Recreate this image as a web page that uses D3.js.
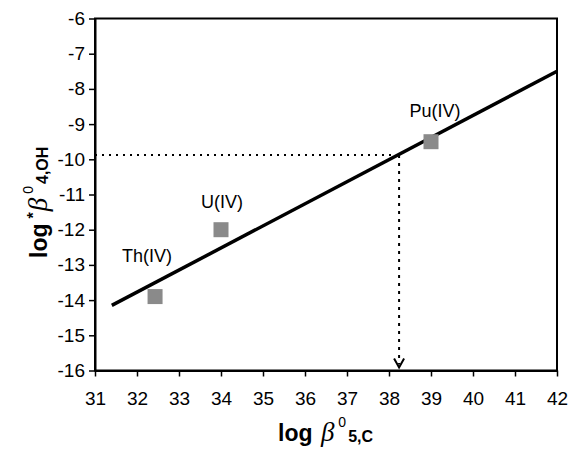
<!DOCTYPE html>
<html>
<head>
<meta charset="utf-8">
<script src="https://d3js.org/d3.v7.min.js"></script>
<style>
  body { margin: 0; background: #fff; }
  svg { display: block; font-family: "Liberation Sans", Arial, sans-serif; }
</style>
</head>
<body>
<svg id="chart" width="569" height="454"></svg>
<script>
// values
const species = ["Th(IV)", "U(IV)", "Pu(IV)"];
const logB5C = [32.43, 34.0, 39.0];      // x
const logB4OH = [-13.9, -12.0, -9.5];    // y
const labelDx = [-8, 1, 4];
const labelDy = [-35, -22, -25];

const fitX = [31.4, 42];
const fitY = [-14.15, -7.5];

const estX = 38.24;   // estimate read from the fit
const estY = -9.88;

const xTicks = d3.range(31, 43);
const yTicks = d3.range(-16, -5);

var svg = d3.select("#chart");

var mLeft = 95, mRight = 557, mTop = 18.5, mBottom = 370.5;

var x = d3.scaleLinear().domain([31, 42]).range([mLeft, mRight]);
var y = d3.scaleLinear().domain([-16, -6]).range([mBottom, mTop]);

// frame
svg.append("rect")
  .attr("x", mLeft).attr("y", mTop)
  .attr("width", mRight - mLeft).attr("height", mBottom - mTop)
  .attr("fill", "none").attr("stroke", "#000").attr("stroke-width", 2);

// axes
var xAxis = svg.append("g")
  .attr("transform", `translate(0,${mBottom})`)
  .call(d3.axisBottom(x).tickValues(xTicks).tickSize(6).tickSizeOuter(0).tickPadding(15).tickFormat(d3.format("d")));

var yAxis = svg.append("g")
  .attr("transform", `translate(${mLeft},0)`)
  .call(d3.axisLeft(y).tickValues(yTicks).tickSize(6).tickSizeOuter(0).tickPadding(4).tickFormat(d => d < 0 ? "-" + Math.abs(d) : d));

[xAxis, yAxis].forEach(function(a) {
  a.select(".domain").attr("stroke-width", 2)
  a.selectAll(".tick line").attr("stroke-width", 1.5)
  a.selectAll(".tick text")
    .style("font-family", "'Liberation Sans', Arial, sans-serif")
    .style("font-size", "19px")
    .attr("fill", "#000")
});

// dotted estimate lines
svg.append("line")
  .attr("x1", x(31)).attr("y1", y(estY))
  .attr("x2", x(estX)).attr("y2", y(estY))
  .attr("stroke", "#000").attr("stroke-width", 2)
  .attr("stroke-dasharray", "2,5");

svg.append("line")
  .attr("x1", x(estX)).attr("y1", y(estY))
  .attr("x2", x(estX)).attr("y2", mBottom - 6)
  .attr("stroke", "#000").attr("stroke-width", 2)
  .attr("stroke-dasharray", "3,5");

// arrow head
svg.append("path")
  .attr("d", `M${x(estX) - 5},${mBottom - 12} L${x(estX)},${mBottom - 3} L${x(estX) + 5},${mBottom - 12}`)
  .attr("fill", "none").attr("stroke", "#000").attr("stroke-width", 2);

// fit line
var fit = fitX.map((d, i) => [d, fitY[i]]);
svg.append("path")
  .datum(fit)
  .attr("d", d3.line().x(d => x(d[0])).y(d => y(d[1])))
  .attr("stroke", "#000").attr("stroke-width", 3.5).attr("fill", "none");

// points
var pts = species.map((s, i) => ({ name: s, x: logB5C[i], y: logB4OH[i], dx: labelDx[i], dy: labelDy[i] }));

svg.selectAll("rect.pt")
  .data(pts)
  .enter().append("rect")
  .attr("class", "pt")
  .attr("x", d => x(d.x) - 7.5)
  .attr("y", d => y(d.y) - 7.5)
  .attr("width", 15).attr("height", 15)
  .attr("fill", "#8a8a8a");

svg.selectAll("text.lbl")
  .data(pts)
  .enter().append("text")
  .attr("class", "lbl")
  .attr("x", d => x(d.x) + d.dx)
  .attr("y", d => y(d.y) + d.dy)
  .attr("text-anchor", "middle")
  .style("font-size", "18px")
  .text(d => d.name);

// x axis title
var xt = svg.append("text")
  .attr("x", 278).attr("y", 441)
  .style("font-size", "23px")
  .style("font-weight", "bold");
xt.append("tspan").text("log ");
xt.append("tspan").attr("dx", 2).style("font-family", "'Liberation Serif', serif").style("font-style", "italic").style("font-weight", "normal").style("font-size", "27px").text("β");
xt.append("tspan").attr("dx", 4).attr("dy", -14).style("font-weight", "normal").style("font-size", "14px").text("0");
xt.append("tspan").attr("dx", 2).attr("dy", 15).style("font-size", "16px").text("5,C");

// y axis title
var yt = svg.append("text")
  .attr("transform", "translate(47,258) rotate(-90)")
  .style("font-size", "23px")
  .style("font-weight", "bold");
yt.append("tspan").text("log");
yt.append("tspan").attr("dx", 5).attr("dy", -8).style("font-size", "16px").text("*");
yt.append("tspan").attr("dx", 1).attr("dy", 8).style("font-family", "'Liberation Serif', serif").style("font-style", "italic").style("font-weight", "normal").style("font-size", "27px").text("β");
yt.append("tspan").attr("dx", 4).attr("dy", -14).style("font-weight", "normal").style("font-size", "14px").text("0");
yt.append("tspan").attr("dx", 2).attr("dy", 15).style("font-size", "16px").text("4,OH");
</script>
</body>
</html>
